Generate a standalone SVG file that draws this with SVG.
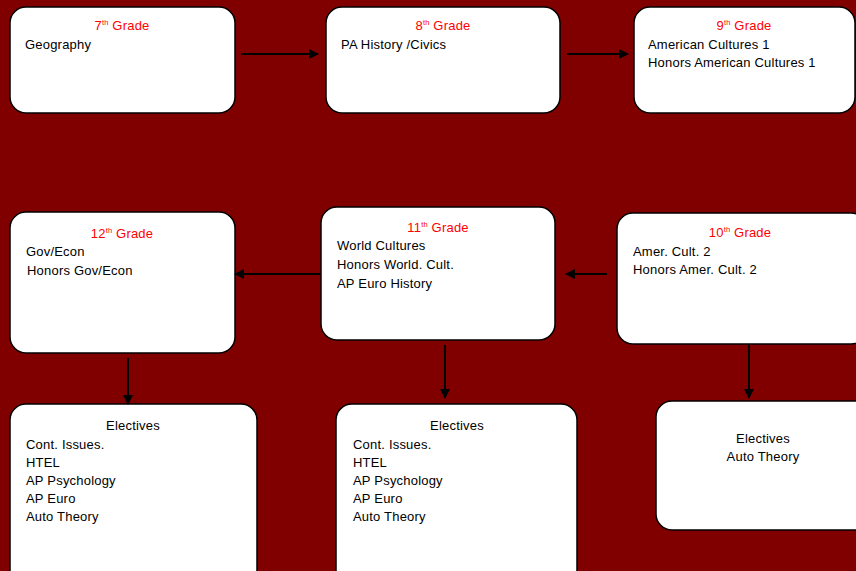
<svg xmlns="http://www.w3.org/2000/svg" width="856" height="571" viewBox="0 0 856 571">
<defs>
<marker id="ah" viewBox="0 0 10 10" refX="9" refY="5" markerWidth="5" markerHeight="5" orient="auto-start-reverse">
<path d="M0,0 L10,5 L0,10 z" fill="#000"/>
</marker>
<style>
.box{fill:#fff;stroke:#000;stroke-width:1.5}
.t{font-family:"Liberation Sans",Arial,sans-serif;font-size:13px;letter-spacing:0.2px;fill:#000}
.h{font-family:"Liberation Sans",Arial,sans-serif;font-size:13px;letter-spacing:0.2px;fill:#ff0000;text-anchor:middle}
.sup{font-size:7.5px}
.c{text-anchor:middle}
.conn{stroke:#000;stroke-width:2;fill:none;marker-end:url(#ah)}
</style>
</defs>
<rect width="856" height="571" fill="#800000"/>
<g id="g7">
<rect class="box" x="10" y="7" width="225" height="106" rx="16"/>
<text class="h" x="122" y="30">7<tspan class="sup" dy="-5">th</tspan><tspan dy="5"> Grade</tspan></text>
<text class="t" x="25" y="49">Geography</text>
</g>
<g id="g8">
<rect class="box" x="326" y="7" width="234" height="106" rx="16"/>
<text class="h" x="443" y="30">8<tspan class="sup" dy="-5">th</tspan><tspan dy="5"> Grade</tspan></text>
<text class="t" x="341" y="49">PA History /Civics</text>
</g>
<g id="g9">
<rect class="box" x="634" y="7" width="221" height="106" rx="16"/>
<text class="h" x="744" y="30">9<tspan class="sup" dy="-5">th</tspan><tspan dy="5"> Grade</tspan></text>
<text class="t" x="648" y="49">American Cultures 1</text>
<text class="t" x="648" y="67">Honors American Cultures 1</text>
</g>
<g id="g12">
<rect class="box" x="10" y="212" width="225" height="141" rx="16"/>
<text class="h" x="122" y="238">12<tspan class="sup" dy="-5">th</tspan><tspan dy="5"> Grade</tspan></text>
<text class="t" x="26" y="256">Gov/Econ</text>
<text class="t" x="27" y="275">Honors Gov/Econ</text>
</g>
<g id="g11">
<rect class="box" x="321" y="207" width="234" height="133" rx="16"/>
<text class="h" x="438" y="232">11<tspan class="sup" dy="-5">th</tspan><tspan dy="5"> Grade</tspan></text>
<text class="t" x="337" y="250">World Cultures</text>
<text class="t" x="337" y="269">Honors World. Cult.</text>
<text class="t" x="337" y="288">AP Euro History</text>
</g>
<g id="g10">
<rect class="box" x="617" y="213" width="250" height="131" rx="16"/>
<text class="h" x="740" y="237">10<tspan class="sup" dy="-5">th</tspan><tspan dy="5"> Grade</tspan></text>
<text class="t" x="633" y="256">Amer. Cult. 2</text>
<text class="t" x="633" y="274">Honors Amer. Cult. 2</text>
</g>
<g id="e12">
<rect class="box" x="10" y="404" width="247" height="190" rx="16"/>
<text class="t c" x="133" y="430">Electives</text>
<text class="t" x="26" y="449">Cont. Issues.</text>
<text class="t" x="26" y="467">HTEL</text>
<text class="t" x="26" y="485">AP Psychology</text>
<text class="t" x="26" y="503">AP Euro</text>
<text class="t" x="26" y="521">Auto Theory</text>
</g>
<g id="e11">
<rect class="box" x="336" y="404" width="241" height="190" rx="16"/>
<text class="t c" x="457" y="430">Electives</text>
<text class="t" x="353" y="449">Cont. Issues.</text>
<text class="t" x="353" y="467">HTEL</text>
<text class="t" x="353" y="485">AP Psychology</text>
<text class="t" x="353" y="503">AP Euro</text>
<text class="t" x="353" y="521">Auto Theory</text>
</g>
<g id="e10">
<rect class="box" x="656" y="401" width="220" height="129" rx="16"/>
<text class="t c" x="763" y="443">Electives</text>
<text class="t c" x="763" y="461">Auto Theory</text>
</g>
<g id="connectors">
<line class="conn" x1="241" y1="54" x2="318" y2="54"/>
<line class="conn" x1="567" y1="54" x2="628" y2="54"/>
<line class="conn" x1="607" y1="274" x2="566" y2="274"/>
<line class="conn" x1="320" y1="274" x2="235" y2="274"/>
<line class="conn" x1="128" y1="358" x2="128" y2="404"/>
<line class="conn" x1="445" y1="345" x2="445" y2="398"/>
<line class="conn" x1="749" y1="345" x2="749" y2="398"/>
</g>
</svg>
